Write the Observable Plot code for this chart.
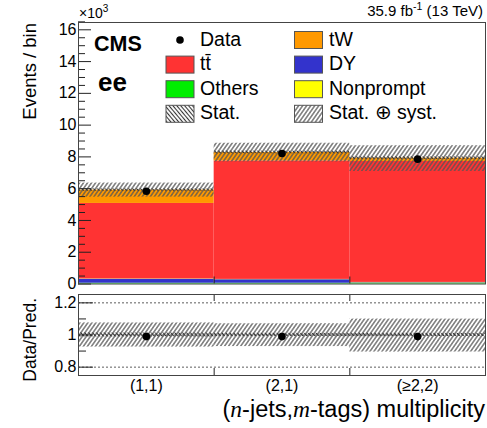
<!DOCTYPE html>
<html><head><meta charset="utf-8">
<script src="https://cdn.jsdelivr.net/npm/d3@7"></script>
<script src="https://cdn.jsdelivr.net/npm/@observablehq/plot@0.6"></script>
<style>
html,body{margin:0;padding:0;background:#fff;}
#wrap{position:relative;width:487px;height:428px;overflow:hidden;font-family:"Liberation Sans",Arial,sans-serif;}
#wrap svg{position:absolute;left:0;overflow:visible;}
#wrap svg.pp text{font-size:16px;font-family:"Liberation Sans",Arial,sans-serif;fill:#000;}
</style></head><body><div id="wrap"></div>
<script>
// ---------- data ----------
const bins = ["(1,1)", "(2,1)", "(≥2,2)"];
const processes = ["Others", "DY", "Nonprompt", "tt̄", "tW"];          // stacking order, bottom first
const processColors = ["#00ee00", "#3333cc", "#ffff00", "#ff3333", "#ff9900"];
const others    = [0.05, 0.05, 0.05];   // x10^3 events
const dy        = [0.25, 0.22, 0.03];
const nonprompt = [0.02, 0.02, 0.02];
const ttbar     = [4.75, 7.46, 7.61];
const tw        = [0.84, 0.53, 0.21];
const dataVals  = [5.84, 8.21, 7.86];
const ratioVals = [0.99, 0.99, 0.99];
const systUp    = [0.075, 0.070, 0.099];  // relative stat ⊕ syst
const systDown  = [0.075, 0.072, 0.106];
const statRel   = [0.012, 0.010, 0.010];  // relative stat only
const mainYTicks  = [0, 2, 4, 6, 8, 10, 12, 14, 16];
const mainYMinor  = [0.5,1,1.5,2.5,3,3.5,4.5,5,5.5,6.5,7,7.5,8.5,9,9.5,10.5,11,11.5,12.5,13,13.5,14.5,15,15.5,16.5];
const ratioYTicks = [0.8, 1, 1.2];
const ratioYMinor = [0.9, 1.1];
const binEdges    = [1, 2];

const FONT = '"Liberation Sans", Arial, sans-serif';
const wrap = d3.select("#wrap");

// hatch pattern definitions
const defsSvg = wrap.append("svg").attr("width", 0).attr("height", 0).style("top", "0px");
const defs = defsSvg.append("defs");
function hatch(id, angle, size, color, sw) {
  const p = defs.append("pattern").attr("id", id).attr("patternUnits", "userSpaceOnUse")
    .attr("width", size).attr("height", size).attr("patternTransform", `rotate(${angle})`);
  p.append("rect").attr("width", size).attr("height", size).attr("fill", "none");
  p.append("line").attr("x1", size / 2).attr("x2", size / 2).attr("y1", 0).attr("y2", size)
    .attr("stroke", color).attr("stroke-width", sw);
}
hatch("hatchSyst", 35, 3.3, "#555", 1.2);
hatch("hatchStat", -40, 3.0, "#333", 1.1);

// ---------- tables ----------
const series = {"Others": others, "DY": dy, "Nonprompt": nonprompt, "tt̄": ttbar, "tW": tw};
const stackRows = processes.flatMap(p => bins.map((b, i) => ({process: p, i, value: series[p][i]})));
const totals = bins.map((b, i) => processes.reduce((s, p) => s + series[p][i], 0));
const systRows = bins.map((b, i) => ({i, lo: totals[i] * (1 - systDown[i]), hi: totals[i] * (1 + systUp[i])}));
const statRows = bins.map((b, i) => ({i, lo: totals[i] * (1 - statRel[i]), hi: totals[i] * (1 + statRel[i])}));
const dataRows = bins.map((b, i) => ({x: i + 0.5, y: dataVals[i], r: ratioVals[i]}));
const rSystRows = bins.map((b, i) => ({i, lo: 1 - systDown[i], hi: 1 + systUp[i]}));
const rStatRows = bins.map((b, i) => ({i, lo: 1 - statRel[i], hi: 1 + statRel[i]}));

// ---------- main panel ----------
const W = 487, ML = 78, MR = 2;
const innerW = W - ML - MR;
const mainH = 290, mainMT = 22, mainMB = 6.5;
const mainInnerH = mainH - mainMT - mainMB;

const main = Plot.plot({
  width: W, height: mainH,
  marginLeft: ML, marginRight: MR, marginTop: mainMT, marginBottom: mainMB,
  style: {fontSize: "16px", fontFamily: FONT, color: "#000", background: "transparent", overflow: "visible"},
  x: {domain: [0, 3], axis: null},
  y: {domain: [0, 16.46], ticks: mainYTicks, tickSize: 0, tickPadding: 2, label: null},
  color: {domain: processes, range: processColors},
  marks: [
    Plot.rectY(stackRows, {x1: d => d.i, x2: d => d.i + 1, y: "value", fill: "process"}),
    Plot.rect(systRows, {x1: d => d.i, x2: d => d.i + 1, y1: "lo", y2: "hi", fill: "url(#hatchSyst)"}),
    Plot.rect(statRows, {x1: d => d.i, x2: d => d.i + 1, y1: "lo", y2: "hi", fill: "url(#hatchStat)"}),
    Plot.dot(dataRows, {x: "x", y: "y", r: 3.8, fill: "#000"}),
    Plot.ruleY(mainYTicks, {insetRight: innerW - 13, stroke: "#222"}),
    Plot.ruleY(mainYMinor, {insetRight: innerW - 7, stroke: "#222"}),
    Plot.ruleX(binEdges, {insetTop: mainInnerH - 7, stroke: "#222"}),
    Plot.frame({stroke: "#444"})
  ]
});
d3.select(main).style("top", "0px").classed("pp", true);
wrap.node().appendChild(main);

// ---------- ratio panel ----------
const rTop = 290, rH = 138, rMT = 4, rMB = 53;
const rInnerH = rH - rMT - rMB;
const ratio = Plot.plot({
  width: W, height: rH,
  marginLeft: ML, marginRight: MR, marginTop: rMT, marginBottom: rMB,
  style: {fontSize: "16px", fontFamily: FONT, color: "#000", background: "transparent", overflow: "visible"},
  x: {domain: [0, 3], ticks: [0.5, 1.5, 2.5], tickFormat: d => bins[Math.floor(d)], tickSize: 0, tickPadding: 4, label: null},
  y: {domain: [0.748, 1.252], ticks: ratioYTicks, tickFormat: d => String(d), tickSize: 0, tickPadding: 2, label: null},
  marks: [
    Plot.rect(rSystRows, {x1: d => d.i, x2: d => d.i + 1, y1: "lo", y2: "hi", fill: "url(#hatchSyst)"}),
    Plot.rect(rStatRows, {x1: d => d.i, x2: d => d.i + 1, y1: "lo", y2: "hi", fill: "url(#hatchStat)"}),
    Plot.ruleY(ratioYTicks, {stroke: "#333", strokeWidth: 0.8, strokeDasharray: "2,2"}),
    Plot.dot(dataRows, {x: "x", y: "r", r: 3.8, fill: "#000"}),
    Plot.ruleY(ratioYTicks, {insetRight: innerW - 15, stroke: "#222"}),
    Plot.ruleY(ratioYMinor, {insetRight: innerW - 8, stroke: "#222"}),
    Plot.ruleX(binEdges, {insetBottom: rInnerH - 7, stroke: "#222"}),
    Plot.ruleX(binEdges, {insetTop: rInnerH - 7, stroke: "#222"}),
    Plot.frame({stroke: "#444"})
  ]
});
d3.select(ratio).style("top", rTop + "px").classed("pp", true);
wrap.node().appendChild(ratio);

// ---------- annotations & legend ----------
const ov = wrap.append("svg").attr("width", W).attr("height", 428).style("top", "0px")
  .style("pointer-events", "none").attr("font-family", FONT);

// x10^3
const e3 = ov.append("text").attr("x", 79).attr("y", 18).attr("font-size", 14).attr("fill", "#000");
e3.append("tspan").text("×10");
e3.append("tspan").attr("dy", -6).attr("font-size", 10).text("3");

// lumi
const lumi = ov.append("text").attr("x", 483).attr("y", 16).attr("text-anchor", "end").attr("font-size", 15).attr("fill", "#000");
lumi.append("tspan").text("35.9 fb");
lumi.append("tspan").attr("dy", -6).attr("font-size", 10.5).text("-1");
lumi.append("tspan").attr("dy", 6).text(" (13 TeV)");

// CMS, ee
ov.append("text").attr("x", 94).attr("y", 51).attr("font-size", 21.5).attr("font-weight", "bold").text("CMS");
ov.append("text").attr("x", 98).attr("y", 91).attr("font-size", 26).attr("font-weight", "bold").text("ee");

// axis titles
ov.append("text").attr("transform", "translate(36,23) rotate(-90)").attr("text-anchor", "end")
  .attr("font-size", 18.5).text("Events / bin");
ov.append("text").attr("transform", "translate(36,298) rotate(-90)").attr("text-anchor", "end")
  .attr("font-size", 17.5).text("Data/Pred.");
const xt = ov.append("text").attr("x", 485).attr("y", 417).attr("text-anchor", "end").attr("font-size", 23.5);
xt.append("tspan").text("(");
xt.append("tspan").attr("font-family", '"Liberation Serif","Times New Roman",serif').attr("font-style", "italic").text("n");
xt.append("tspan").text("-jets,");
xt.append("tspan").attr("font-family", '"Liberation Serif","Times New Roman",serif').attr("font-style", "italic").text("m");
xt.append("tspan").text("-tags) multiplicity");

// legend
const col = p => processColors[processes.indexOf(p)];
const legendCols = [
  {sx: 166, tx: 200, items: [
    {label: "Data", dot: true}, {label: "tt̄", fill: col("tt̄")},
    {label: "Others", fill: col("Others")}, {label: "Stat.", fill: "url(#hatchStat)"}]},
  {sx: 294.5, tx: 329, items: [
    {label: "tW", fill: col("tW")}, {label: "DY", fill: col("DY")},
    {label: "Nonprompt", fill: col("Nonprompt")}, {label: "Stat. ⊕ syst.", fill: "url(#hatchSyst)"}]}
];
legendCols.forEach(c => {
  c.items.forEach((it, k) => {
    const base = 45.5 + k * 24.6;
    if (it.dot) {
      ov.append("circle").attr("cx", c.sx + 14).attr("cy", base - 5.5).attr("r", 3.8).attr("fill", "#000");
    } else {
      ov.append("rect").attr("x", c.sx).attr("y", base - 14).attr("width", 28).attr("height", 17)
        .attr("fill", it.fill).attr("stroke", "#555").attr("stroke-width", 1);
    }
    ov.append("text").attr("x", c.tx).attr("y", base).attr("font-size", 19.5).attr("fill", "#000").text(it.label);
  });
});
</script></body></html>
